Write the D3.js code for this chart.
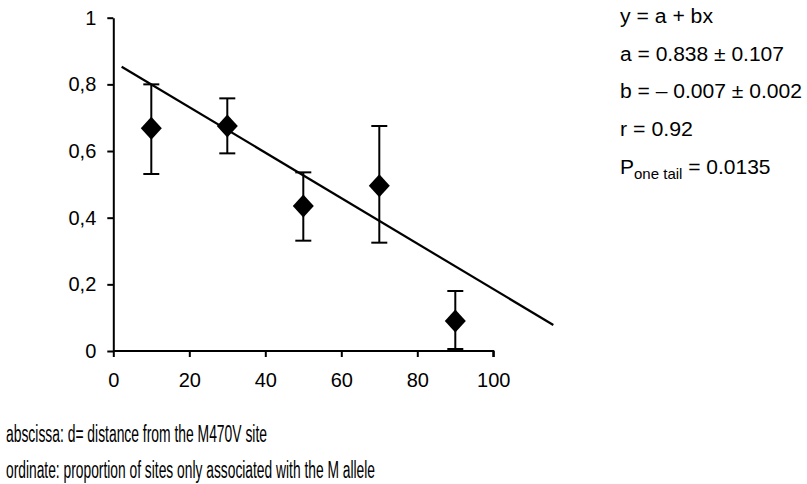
<!DOCTYPE html>
<html>
<head>
<meta charset="utf-8">
<script src="https://cdn.jsdelivr.net/npm/d3@7"></script>
<style>
  body { margin: 0; background: #fff; }
  svg { display: block; font-family: "Liberation Sans", Arial, Helvetica, sans-serif; }
</style>
</head>
<body>
<svg id="chart" width="807" height="484"></svg>
<script>
// data
const distance = [10, 30, 50, 70, 90];
const proportion = [0.668, 0.675, 0.435, 0.496, 0.09];
const errTop = [0.80, 0.758, 0.536, 0.675, 0.18];
const errBottom = [0.531, 0.593, 0.331, 0.325, 0.006];
const fitX = [2.2, 115.8];
const fitY = [0.853, 0.078];
const xTicks = [0, 20, 40, 60, 80, 100];
const yTicks = [0, 0.2, 0.4, 0.6, 0.8, 1];
const yTickLabels = ["0", "0,2", "0,4", "0,6", "0,8", "1"];
const stats = ["y = a + bx", "a = 0.838 \u00b1 0.107", "b = \u2013 0.007 \u00b1 0.002", "r = 0.92"];
const statWidths = [93, 164, 182, 73];
const notes = ["abscissa: d= distance from the M470V site",
               "ordinate: proportion of sites only associated with the M allele"];
const noteWidths = [261, 369];

const svg = d3.select("#chart");

const x = d3.scaleLinear().domain([0, 100]).range([113.3, 493.3]);
const y = d3.scaleLinear().domain([0, 1]).range([351, 17.7]);

const xAxis = (g) =>
  g.attr("transform", `translate(0,${y(0)})`)
    .call(d3.axisBottom(x).tickValues(xTicks).tickSize(6).tickSizeOuter(6).tickPadding(16));

const yAxis = (g) =>
  g.attr("transform", `translate(${x(0)},0)`)
    .call(d3.axisLeft(y).tickValues(yTicks)
      .tickFormat((d, i) => yTickLabels[i])
      .tickSize(6).tickSizeOuter(0).tickPadding(11));

svg.append("g").attr("class", "x-axis").call(xAxis);
svg.append("g").attr("class", "y-axis").call(yAxis);

svg.selectAll(".x-axis, .y-axis")
  .call((g) => g.selectAll("path, line").attr("stroke", "#000").attr("stroke-width", 2))
  .call((g) => g.selectAll("text").attr("font-size", 20).attr("fill", "#000")
    .attr("font-family", "'Liberation Sans', Arial, sans-serif"));
svg.select(".x-axis .domain").attr("d", `M${x(0)},0H${x(100)}V6`);

// regression line
svg.append("line")
  .attr("x1", x(fitX[0])).attr("y1", y(fitY[0]))
  .attr("x2", x(fitX[1])).attr("y2", y(fitY[1]))
  .attr("stroke", "#000").attr("stroke-width", 2.2);

// error bars
const bars = svg.append("g").attr("class", "errors")
  .selectAll("g").data(distance).join("g");
bars.append("line")
  .attr("x1", (d) => x(d)).attr("x2", (d) => x(d))
  .attr("y1", (d, i) => y(errTop[i])).attr("y2", (d, i) => y(errBottom[i]))
  .attr("stroke", "#000").attr("stroke-width", 2);
bars.append("line")
  .attr("x1", (d) => x(d) - 8).attr("x2", (d) => x(d) + 8)
  .attr("y1", (d, i) => y(errTop[i])).attr("y2", (d, i) => y(errTop[i]))
  .attr("stroke", "#000").attr("stroke-width", 2);
bars.append("line")
  .attr("x1", (d) => x(d) - 8).attr("x2", (d) => x(d) + 8)
  .attr("y1", (d, i) => y(errBottom[i])).attr("y2", (d, i) => y(errBottom[i]))
  .attr("stroke", "#000").attr("stroke-width", 2);

// diamonds
const w = 10.5, h = 11.5;
svg.append("g").attr("class", "points")
  .selectAll("path").data(distance).join("path")
  .attr("transform", (d, i) => `translate(${x(d)},${y(proportion[i])})`)
  .attr("d", `M0,${-h}L${w},0L0,${h}L${-w},0Z`)
  .attr("fill", "#000");

// stats text
const st = svg.append("g").attr("class", "stats").attr("font-size", 20).attr("fill", "#000");
st.selectAll("text").data(stats).join("text")
  .attr("x", 620).attr("y", (d, i) => 23 + i * 37.7)
  .attr("textLength", (d, i) => statWidths[i])
  .attr("lengthAdjust", "spacingAndGlyphs")
  .text((d) => d);
const p = st.append("text").attr("x", 620).attr("y", 23 + 4 * 37.7).attr("font-size", 21);
p.append("tspan").text("P");
p.append("tspan").attr("font-size", 15).attr("dy", 5).text("one tail");
p.append("tspan").attr("dy", -5).text(" = 0.0135");

// notes
svg.append("g").attr("class", "notes")
  .selectAll("text").data(notes).join("text")
  .attr("x", 6).attr("y", (d, i) => 442 + i * 36.3)
  .attr("font-size", 23).attr("fill", "#000")
  .attr("textLength", (d, i) => noteWidths[i])
  .attr("lengthAdjust", "spacingAndGlyphs")
  .text((d) => d);
</script>
</body>
</html>
